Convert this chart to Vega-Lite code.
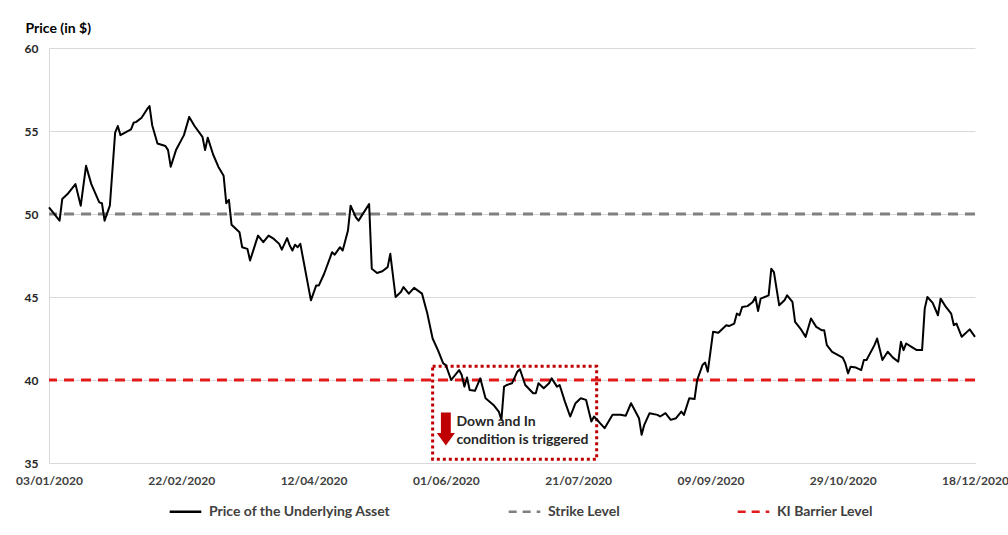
{
  "$schema": "https://vega.github.io/schema/vega-lite/v6.json",
  "width": 926,
  "height": 415,
  "autosize": {"type": "none"},
  "padding": {"left": 49, "top": 48, "right": 33, "bottom": 72},
  "background": "#ffffff",
  "config": {
    "view": {"stroke": null},
    "font": "Lato",
    "axis": {"labelFont": "Lato", "labelFontWeight": "bold", "labelColor": "#404040", "labelFontSize": 12, "titleFont": "Lato"},
    "legend": {"labelFont": "Lato", "labelFontWeight": "bold", "labelColor": "#404040", "labelFontSize": 14, "labelLimit": 400}
  },
  "datasets": {
    "price": [
      {"date": "2020-01-03", "price": 50.4}, {"date": "2020-01-07", "price": 49.6}, {"date": "2020-01-08", "price": 50.9},
      {"date": "2020-01-10", "price": 51.2}, {"date": "2020-01-13", "price": 51.8}, {"date": "2020-01-15", "price": 50.5},
      {"date": "2020-01-17", "price": 52.9}, {"date": "2020-01-19", "price": 51.8}, {"date": "2020-01-22", "price": 50.7},
      {"date": "2020-01-23", "price": 50.65}, {"date": "2020-01-24", "price": 49.6}, {"date": "2020-01-26", "price": 50.5},
      {"date": "2020-01-28", "price": 54.9}, {"date": "2020-01-29", "price": 55.3}, {"date": "2020-01-30", "price": 54.75},
      {"date": "2020-02-03", "price": 55.1}, {"date": "2020-02-04", "price": 55.5}, {"date": "2020-02-05", "price": 55.55},
      {"date": "2020-02-07", "price": 55.8}, {"date": "2020-02-09", "price": 56.3}, {"date": "2020-02-10", "price": 56.5},
      {"date": "2020-02-11", "price": 55.35}, {"date": "2020-02-13", "price": 54.25}, {"date": "2020-02-16", "price": 54.1},
      {"date": "2020-02-17", "price": 53.85}, {"date": "2020-02-18", "price": 52.85}, {"date": "2020-02-20", "price": 53.85},
      {"date": "2020-02-23", "price": 54.75}, {"date": "2020-02-25", "price": 55.85}, {"date": "2020-02-27", "price": 55.3},
      {"date": "2020-03-01", "price": 54.65}, {"date": "2020-03-02", "price": 53.85}, {"date": "2020-03-03", "price": 54.6},
      {"date": "2020-03-05", "price": 53.6}, {"date": "2020-03-07", "price": 52.85}, {"date": "2020-03-09", "price": 52.3},
      {"date": "2020-03-10", "price": 50.65}, {"date": "2020-03-11", "price": 50.85}, {"date": "2020-03-12", "price": 49.35},
      {"date": "2020-03-15", "price": 48.9}, {"date": "2020-03-16", "price": 48.0}, {"date": "2020-03-18", "price": 47.9},
      {"date": "2020-03-19", "price": 47.2}, {"date": "2020-03-22", "price": 48.7}, {"date": "2020-03-24", "price": 48.3},
      {"date": "2020-03-26", "price": 48.7}, {"date": "2020-03-28", "price": 48.5}, {"date": "2020-03-30", "price": 48.2},
      {"date": "2020-03-31", "price": 47.85}, {"date": "2020-04-02", "price": 48.55}, {"date": "2020-04-03", "price": 48.1},
      {"date": "2020-04-04", "price": 47.8}, {"date": "2020-04-05", "price": 48.15}, {"date": "2020-04-06", "price": 48.0},
      {"date": "2020-04-07", "price": 48.2}, {"date": "2020-04-11", "price": 44.8}, {"date": "2020-04-13", "price": 45.7},
      {"date": "2020-04-14", "price": 45.7}, {"date": "2020-04-16", "price": 46.4}, {"date": "2020-04-19", "price": 47.7},
      {"date": "2020-04-20", "price": 47.55}, {"date": "2020-04-22", "price": 48.0}, {"date": "2020-04-23", "price": 47.8},
      {"date": "2020-04-25", "price": 49.0}, {"date": "2020-04-26", "price": 50.5}, {"date": "2020-04-28", "price": 49.8},
      {"date": "2020-04-29", "price": 49.6}, {"date": "2020-05-01", "price": 50.1}, {"date": "2020-05-03", "price": 50.6},
      {"date": "2020-05-04", "price": 46.7}, {"date": "2020-05-06", "price": 46.45}, {"date": "2020-05-08", "price": 46.55},
      {"date": "2020-05-10", "price": 46.8}, {"date": "2020-05-11", "price": 47.6}, {"date": "2020-05-13", "price": 45.0},
      {"date": "2020-05-15", "price": 45.3}, {"date": "2020-05-16", "price": 45.6}, {"date": "2020-05-18", "price": 45.2},
      {"date": "2020-05-20", "price": 45.55}, {"date": "2020-05-23", "price": 45.2}, {"date": "2020-05-24", "price": 44.6},
      {"date": "2020-05-25", "price": 44.0}, {"date": "2020-05-27", "price": 42.5}, {"date": "2020-05-29", "price": 41.8},
      {"date": "2020-05-31", "price": 41.0}, {"date": "2020-06-01", "price": 40.9}, {"date": "2020-06-03", "price": 40.0},
      {"date": "2020-06-06", "price": 40.6}, {"date": "2020-06-07", "price": 40.3}, {"date": "2020-06-08", "price": 39.6},
      {"date": "2020-06-09", "price": 40.15}, {"date": "2020-06-10", "price": 39.4}, {"date": "2020-06-12", "price": 39.35},
      {"date": "2020-06-14", "price": 40.1}, {"date": "2020-06-16", "price": 38.9}, {"date": "2020-06-19", "price": 38.5},
      {"date": "2020-06-21", "price": 38.1}, {"date": "2020-06-22", "price": 37.6}, {"date": "2020-06-23", "price": 39.6},
      {"date": "2020-06-24", "price": 39.7}, {"date": "2020-06-26", "price": 39.8}, {"date": "2020-06-28", "price": 40.5},
      {"date": "2020-06-29", "price": 40.65}, {"date": "2020-07-01", "price": 39.7}, {"date": "2020-07-04", "price": 39.2},
      {"date": "2020-07-05", "price": 39.2}, {"date": "2020-07-06", "price": 39.8}, {"date": "2020-07-08", "price": 39.5},
      {"date": "2020-07-10", "price": 39.8}, {"date": "2020-07-11", "price": 40.1}, {"date": "2020-07-13", "price": 39.6},
      {"date": "2020-07-14", "price": 39.7}, {"date": "2020-07-16", "price": 38.7}, {"date": "2020-07-18", "price": 37.8},
      {"date": "2020-07-20", "price": 38.6}, {"date": "2020-07-22", "price": 38.9}, {"date": "2020-07-24", "price": 38.8},
      {"date": "2020-07-26", "price": 37.5}, {"date": "2020-07-27", "price": 37.8}, {"date": "2020-07-31", "price": 37.1},
      {"date": "2020-08-03", "price": 37.9}, {"date": "2020-08-06", "price": 37.9}, {"date": "2020-08-08", "price": 37.85},
      {"date": "2020-08-10", "price": 38.6}, {"date": "2020-08-11", "price": 38.3}, {"date": "2020-08-13", "price": 37.7},
      {"date": "2020-08-14", "price": 36.7}, {"date": "2020-08-15", "price": 37.3}, {"date": "2020-08-17", "price": 38.0},
      {"date": "2020-08-20", "price": 37.9}, {"date": "2020-08-21", "price": 37.8}, {"date": "2020-08-23", "price": 38.0},
      {"date": "2020-08-25", "price": 37.6}, {"date": "2020-08-27", "price": 37.7}, {"date": "2020-08-29", "price": 38.1},
      {"date": "2020-08-30", "price": 37.9}, {"date": "2020-09-01", "price": 38.9}, {"date": "2020-09-03", "price": 38.85},
      {"date": "2020-09-04", "price": 40.0}, {"date": "2020-09-06", "price": 40.9}, {"date": "2020-09-07", "price": 41.05},
      {"date": "2020-09-08", "price": 40.5}, {"date": "2020-09-09", "price": 41.7}, {"date": "2020-09-10", "price": 42.9},
      {"date": "2020-09-12", "price": 42.85}, {"date": "2020-09-13", "price": 43.0}, {"date": "2020-09-15", "price": 43.3},
      {"date": "2020-09-16", "price": 43.25}, {"date": "2020-09-18", "price": 43.4}, {"date": "2020-09-19", "price": 44.0},
      {"date": "2020-09-20", "price": 43.9}, {"date": "2020-09-21", "price": 44.4}, {"date": "2020-09-23", "price": 44.45},
      {"date": "2020-09-25", "price": 44.7}, {"date": "2020-09-26", "price": 45.0}, {"date": "2020-09-27", "price": 44.15},
      {"date": "2020-09-28", "price": 44.9}, {"date": "2020-10-01", "price": 45.1}, {"date": "2020-10-02", "price": 46.7},
      {"date": "2020-10-03", "price": 46.5}, {"date": "2020-10-05", "price": 44.5}, {"date": "2020-10-07", "price": 44.8},
      {"date": "2020-10-08", "price": 45.1}, {"date": "2020-10-10", "price": 44.7}, {"date": "2020-10-11", "price": 43.5},
      {"date": "2020-10-13", "price": 43.1}, {"date": "2020-10-15", "price": 42.6}, {"date": "2020-10-17", "price": 43.7},
      {"date": "2020-10-19", "price": 43.2}, {"date": "2020-10-21", "price": 43.0}, {"date": "2020-10-22", "price": 43.0},
      {"date": "2020-10-23", "price": 42.1}, {"date": "2020-10-25", "price": 41.7}, {"date": "2020-10-29", "price": 41.35},
      {"date": "2020-10-30", "price": 41.0}, {"date": "2020-10-31", "price": 40.4}, {"date": "2020-11-01", "price": 40.8},
      {"date": "2020-11-03", "price": 40.75}, {"date": "2020-11-05", "price": 40.6}, {"date": "2020-11-06", "price": 41.2},
      {"date": "2020-11-07", "price": 41.2}, {"date": "2020-11-10", "price": 42.1}, {"date": "2020-11-11", "price": 42.5},
      {"date": "2020-11-13", "price": 41.2}, {"date": "2020-11-15", "price": 41.7}, {"date": "2020-11-17", "price": 41.35},
      {"date": "2020-11-19", "price": 41.1}, {"date": "2020-11-20", "price": 42.3}, {"date": "2020-11-21", "price": 41.8},
      {"date": "2020-11-22", "price": 42.2}, {"date": "2020-11-24", "price": 42.0}, {"date": "2020-11-26", "price": 41.8},
      {"date": "2020-11-28", "price": 41.8}, {"date": "2020-11-29", "price": 44.3}, {"date": "2020-11-30", "price": 45.0},
      {"date": "2020-12-02", "price": 44.65}, {"date": "2020-12-04", "price": 43.9}, {"date": "2020-12-05", "price": 44.9},
      {"date": "2020-12-07", "price": 44.4}, {"date": "2020-12-09", "price": 44.0}, {"date": "2020-12-10", "price": 43.3},
      {"date": "2020-12-11", "price": 43.4}, {"date": "2020-12-13", "price": 42.6}, {"date": "2020-12-16", "price": 43.05},
      {"date": "2020-12-18", "price": 42.6}
    ],
    "levels": [
      {"series": "Strike Level", "level": 50},
      {"series": "KI Barrier Level", "level": 40}
    ],
    "box": [
      {"date": "2020-05-27", "end": "2020-07-28", "low": 35.22, "high": 40.83}
    ],
    "arrow": [
      {"date": "2020-06-01", "price": 37.05}
    ],
    "notes": [
      {"date": "2020-06-05", "price": 37.45, "text": "Down and In"},
      {"date": "2020-06-05", "price": 36.37, "text": "condition is triggered"}
    ]
  },
  "encoding": {},
  "layer": [
    {
      "data": {"name": "box"},
      "mark": {"type": "rect", "fillOpacity": 0, "stroke": "#c00000", "strokeWidth": 3, "strokeDash": [3, 3]},
      "encoding": {
        "x": {
          "field": "date", "type": "temporal",
          "scale": {"type": "utc", "domain": [1578009600000, 1608249600000]},
          "axis": {
            "title": null, "labelExpr": "utcFormat(datum.value, '%d/%m/%Y')",
            "values": [1578009600000, 1582329600000, 1586649600000, 1590969600000, 1595289600000, 1599609600000, 1603929600000, 1608249600000],
            "grid": false, "ticks": false, "domainColor": "#d9d9d9", "domainWidth": 1, "labelPadding": 12, "labelFlush": false, "labelOverlap": false
          }
        },
        "x2": {"field": "end"},
        "y": {
          "field": "high", "type": "quantitative",
          "scale": {"domain": [35, 60], "nice": false, "zero": false},
          "axis": {
            "title": "Price (in $)", "titleAngle": 0, "titleX": -24, "titleY": -20, "titleAlign": "left", "titleBaseline": "middle",
            "titleFontSize": 14, "titleFontWeight": "bold", "titleColor": "#000000",
            "values": [35, 40, 45, 50, 55, 60], "ticks": false, "labelPadding": 11,
            "gridColor": "#d9d9d9", "gridWidth": 1, "domainColor": "#d9d9d9", "labelColor": "#262626"
          }
        },
        "y2": {"field": "low"}
      }
    },
    {
      "data": {"name": "levels"},
      "mark": {"type": "rule", "strokeWidth": 3, "strokeDash": [10, 7]},
      "encoding": {
        "y": {"field": "level", "type": "quantitative"},
        "color": {
          "field": "series", "type": "nominal",
          "scale": {
            "domain": ["Price of the Underlying Asset", "Strike Level", "KI Barrier Level"],
            "range": ["#000000", "#808080", "#e31a1c"]
          },
          "legend": {
            "title": null, "orient": "none", "legendX": 119, "legendY": 446, "direction": "horizontal",
            "symbolType": "stroke", "symbolSize": 1000, "symbolStrokeWidth": 2.5,
            "columnPadding": 112, "labelOffset": 6,
            "encode": {"symbols": {"update": {"strokeDash": {"signal": "datum.value === 'Price of the Underlying Asset' ? [1, 0] : [8, 6]"}}}}
          }
        }
      }
    },
    {
      "data": {"name": "price"},
      "mark": {"type": "line", "strokeWidth": 2, "strokeJoin": "round"},
      "encoding": {
        "x": {"field": "date", "type": "temporal"},
        "y": {"field": "price", "type": "quantitative"},
        "color": {"datum": "Price of the Underlying Asset", "type": "nominal"}
      }
    },
    {
      "data": {"name": "arrow"},
      "mark": {"type": "point", "filled": true, "color": "#c00000", "opacity": 1, "size": 1090,
        "shape": "M-0.3,-1L0.3,-1L0.3,0.25L0.55,0.25L0,1L-0.55,0.25L-0.3,0.25Z"},
      "encoding": {
        "x": {"field": "date", "type": "temporal"},
        "y": {"field": "price", "type": "quantitative"}
      }
    },
    {
      "data": {"name": "notes"},
      "mark": {"type": "text", "align": "left", "baseline": "middle", "font": "Lato", "fontWeight": "bold", "fontSize": 14, "color": "#262626"},
      "encoding": {
        "x": {"field": "date", "type": "temporal"},
        "y": {"field": "price", "type": "quantitative"},
        "text": {"field": "text"}
      }
    }
  ]
}
